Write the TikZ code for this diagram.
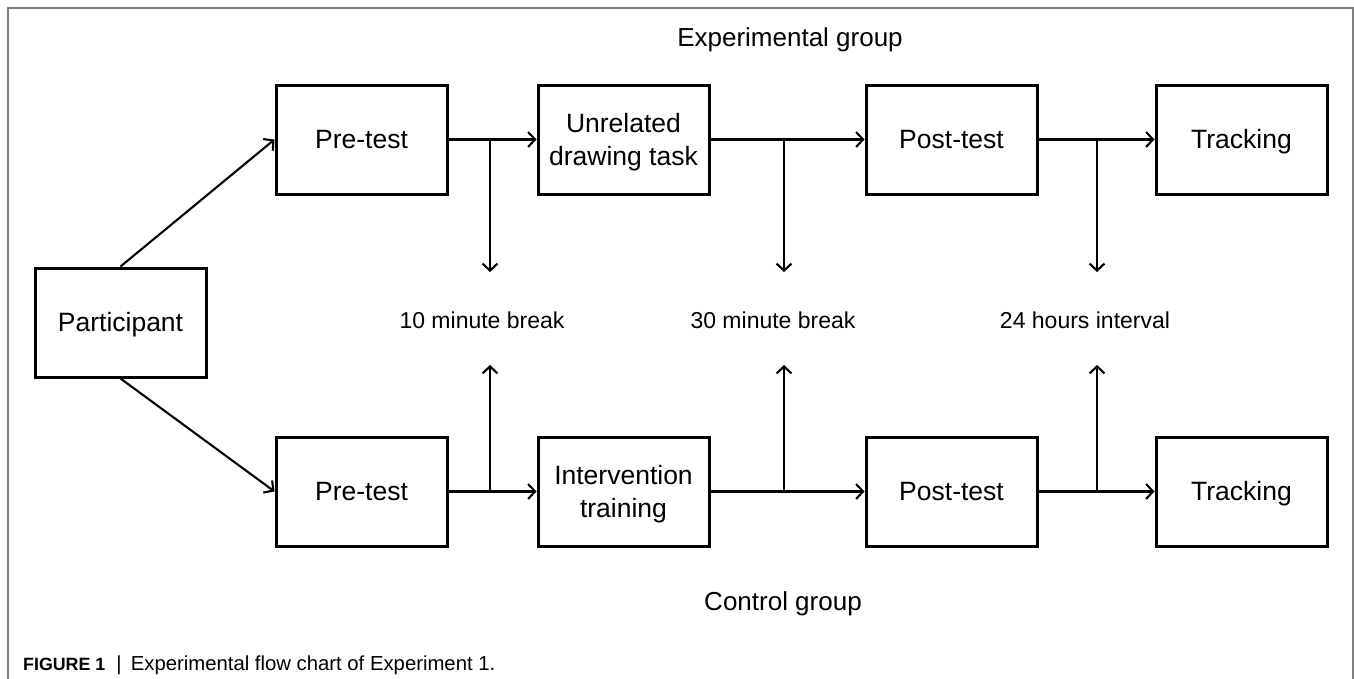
\documentclass[tikz,border=0pt]{standalone}
\usepackage{fontspec}
\setmainfont{Liberation Sans}
\usetikzlibrary{arrows.meta}
\newcommand\mystrut{\rule[-0.25em]{0pt}{1.216em}}
\begin{document}
\begin{tikzpicture}[x=1pt,y=-1pt,
  box/.style={draw=black, line width=3pt, minimum width=171pt, minimum height=109pt, inner sep=0pt, align=center, font=\fontsize{26.5}{31}\selectfont},
  lbl/.style={inner sep=0pt, font=\fontsize{23}{27}\selectfont},
  grp/.style={inner sep=0pt, font=\fontsize{26}{30}\selectfont},
  arr/.style={line width=2.1pt, -{Straight Barb[length=7pt,width=15pt,line width=2.1pt]}},
  ln/.style={line width=2.1pt}]
\useasboundingbox (0,0) rectangle (1354,678);
\fill[white] (0,0) rectangle (1354,678);
% frame
\draw[line width=1.3pt, draw={rgb,255:red,128;green,128;blue,128}] (8,680) -- (8,8) -- (1353,8) -- (1353,680);
% nodes
\node[box] (part) at (120.5,322.5) {\mystrut Participant};
\node[box] (pre1) at (361.5,139.5) {\mystrut Pre-test};
\node[box] (unr) at (623.5,139.5) {\mystrut Unrelated\\\mystrut drawing task};
\node[box] (post1) at (951.5,139.5) {\mystrut Post-test};
\node[box] (trk1) at (1241.5,139.5) {\mystrut Tracking};
\node[box] (pre2) at (361.5,491.5) {\mystrut Pre-test};
\node[box] (int) at (623.5,491.5) {\mystrut Intervention\\\mystrut training};
\node[box] (post2) at (951.5,491.5) {\mystrut Post-test};
\node[box] (trk2) at (1241.5,491.5) {\mystrut Tracking};
% labels
\node[grp] (eg) at (790,37) {\mystrut Experimental group};
\node[grp] (cg) at (783,601) {\mystrut Control group};
\node[lbl] (l1) at (482,320) {\mystrut 10 minute break};
\node[lbl] (l2) at (773,320) {\mystrut 30 minute break};
\node[lbl] (l3) at (1085,320) {\mystrut 24 hours interval};
% participant arrows
\draw[arr] (part.north) -- (pre1.west);
\draw[arr] (part.south) -- (pre2.west);
% row arrows
\draw[arr] (pre1.east) -- (unr.west);
\draw[arr] (unr.east) -- (post1.west);
\draw[arr] (post1.east) -- (trk1.west);
\draw[arr] (pre2.east) -- (int.west);
\draw[arr] (int.east) -- (post2.west);
\draw[arr] (post2.east) -- (trk2.west);
% branch coordinates
\coordinate (j1) at (490,139.5);
\coordinate (j2) at (784,139.5);
\coordinate (j3) at (1097,139.5);
\coordinate (e1) at (490,272);
\coordinate (e2) at (784,272);
\coordinate (e3) at (1097,272);
\coordinate (k1) at (490,491.5);
\coordinate (k2) at (784,491.5);
\coordinate (k3) at (1097,491.5);
\coordinate (f1) at (490,365);
\coordinate (f2) at (784,365);
\coordinate (f3) at (1097,365);
\draw[arr] (j1) -- (e1);
\draw[arr] (j2) -- (e2);
\draw[arr] (j3) -- (e3);
\draw[arr] (k1) -- (f1);
\draw[arr] (k2) -- (f2);
\draw[arr] (k3) -- (f3);
% caption
\node[anchor=base west, inner sep=0pt, font=\fontsize{20.3}{24}\selectfont] (cap) at (23,670) {{\fontsize{17.8}{21}\selectfont\bfseries FIGURE 1}\hspace{0.55em}|\hspace{0.45em}Experimental flow chart of Experiment 1.};
\end{tikzpicture}
\end{document}
